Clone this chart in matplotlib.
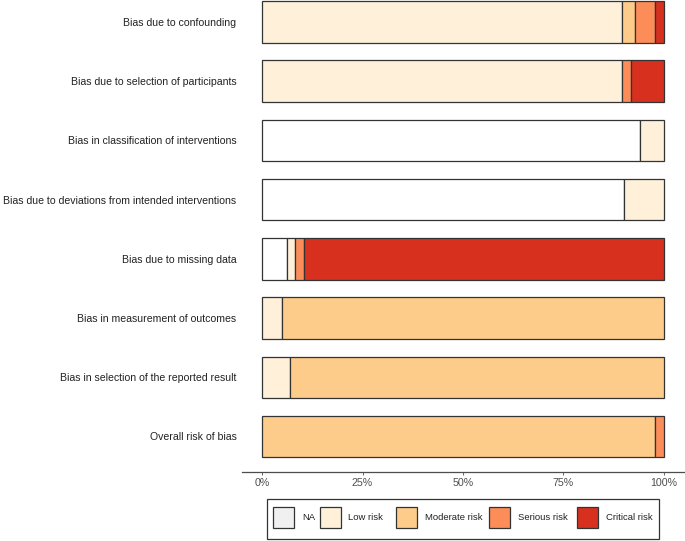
import numpy as np
import matplotlib
matplotlib.use("Agg")
import matplotlib.pyplot as plt
from matplotlib.patches import Rectangle

plt.rcParams['font.family'] = ['Liberation Sans', 'DejaVu Sans']

# domains, top to bottom
domains = [
    "Bias due to confounding",
    "Bias due to selection of participants",
    "Bias in classification of interventions",
    "Bias due to deviations from intended interventions",
    "Bias due to missing data",
    "Bias in measurement of outcomes",
    "Bias in selection of the reported result",
    "Overall risk of bias",
]
# percentage of studies per judgement
na_pct       = [0.0, 0.0, 94.0, 90.0, 6.2, 0.0, 0.0, 0.0]
low_pct      = [89.6, 89.6, 6.0, 10.0, 2.1, 5.0, 7.0, 0.0]
moderate_pct = [3.2, 0.0, 0.0, 0.0, 0.0, 95.0, 93.0, 97.9]
serious_pct  = [5.0, 2.1, 0.0, 0.0, 2.1, 0.0, 0.0, 2.1]
critical_pct = [2.2, 8.3, 0.0, 0.0, 89.6, 0.0, 0.0, 0.0]

levels = ["NA", "Low risk", "Moderate risk", "Serious risk", "Critical risk"]
series = [na_pct, low_pct, moderate_pct, serious_pct, critical_pct]
bar_cols = ["#ffffff", "#fef0d9", "#fdcc8a", "#fc8d59", "#d7301f"]
key_cols = ["#f0f0f0", "#fef0d9", "#fdcc8a", "#fc8d59", "#d7301f"]

fig = plt.figure(figsize=(6.85, 5.41), dpi=100)
ax = fig.add_axes([242 / 685, 1 - 472 / 541, 442 / 685, 472 / 541])

y = np.arange(len(domains))
left = np.zeros(len(domains))
for vals, col in zip(series, bar_cols):
    v = np.array(vals) / 100.0
    m = v > 0
    ax.barh(y[m], v[m], left=left[m], height=0.7, color=col,
            edgecolor="#333333", linewidth=0.9)
    left += v

ax.set_xlim(-0.05, 1.05)
ax.set_ylim(7.6, -0.37)
ax.set_yticks(y)
ax.set_yticklabels(domains, fontsize=7.55, color="#222222")
ax.tick_params(axis="y", length=0, pad=4)
ax.set_xticks([0, 0.25, 0.5, 0.75, 1.0])
ax.set_xticklabels(["0%", "25%", "50%", "75%", "100%"], fontsize=7.7, color="#4d4d4d")
ax.tick_params(axis="x", length=2.5, width=0.6, color="#4d4d4d", pad=2)
for s in ["top", "right", "left"]:
    ax.spines[s].set_visible(False)
ax.spines["bottom"].set_color("#4d4d4d")
ax.spines["bottom"].set_linewidth(0.9)

# legend drawn in pixel coordinates of the figure
W, H = 685.0, 541.0
fig.add_artist(Rectangle((267 / W, 1 - 539 / H), 392 / W, 40 / H, transform=fig.transFigure,
                         facecolor="white", edgecolor="#333333", linewidth=0.9))
key_x = [273, 319.5, 396, 489, 577]
for kx, col, lab in zip(key_x, key_cols, levels):
    fig.add_artist(Rectangle((kx / W, 1 - 528 / H), 21 / W, 21 / H, transform=fig.transFigure,
                             facecolor=col, edgecolor="#333333", linewidth=0.9))
    fig.text((kx + 29) / W, 1 - 517.5 / H, lab, fontsize=6.8, color="#222222",
             ha="left", va="center")

fig.savefig("out.png", dpi=100)
